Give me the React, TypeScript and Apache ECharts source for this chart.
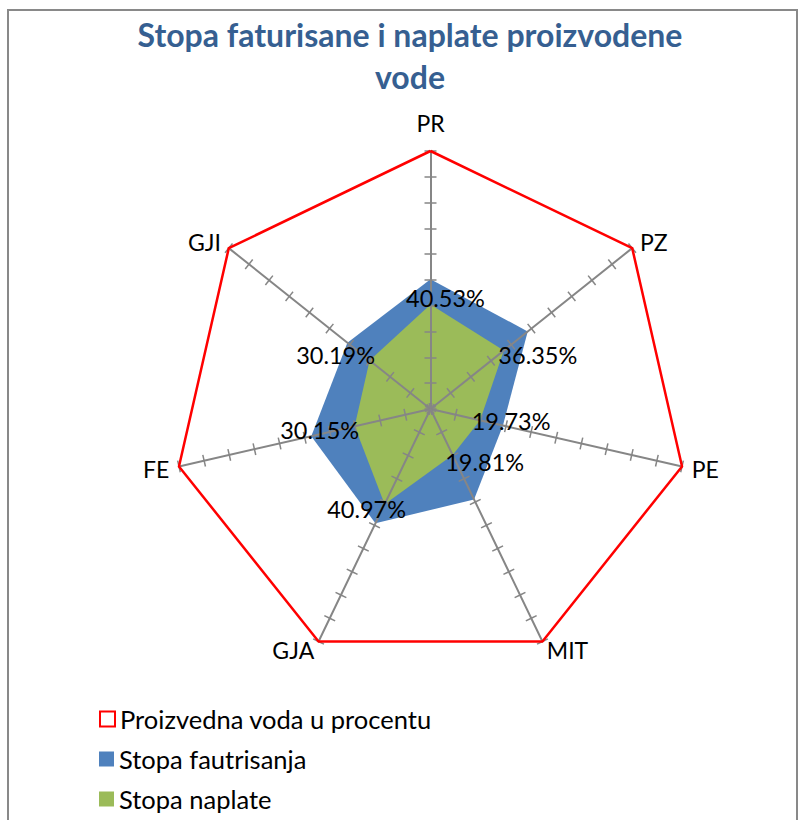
import React, { useEffect, useRef } from "react";
import * as echarts from "echarts";

const categories = ["PR", "PZ", "PE", "MIT", "GJA", "FE", "GJI"];
const proizvedna = [100, 100, 100, 100, 100, 100, 100];
const fakturisanje = [50.3, 48.2, 28.8, 38.9, 49.2, 47.4, 41.2];
const naplata = [40.53, 36.35, 19.73, 19.81, 40.97, 30.15, 30.19];
const seriesNames = ["Proizvedna voda u procentu", "Stopa fautrisanja", "Stopa naplate"];
const titleText = "Stopa faturisane i naplate proizvodene\nvode";

// label offsets (style only) per category, in the same order as categories
const labelOffsets = [
  [15, -6],
  [34, 4],
  [31, 1],
  [32, 7],
  [-18, 5],
  [-35, 4],
  [-34, -5],
];

const FONT = "Lato, 'Open Sans', sans-serif";
const AXIS_GRAY = "#868686";

// ECharts places indicators counter-clockwise; Excel clockwise
const order = [0, ...categories.map((_, i) => i).slice(1).reverse()];
const reorder = <T,>(arr: T[]): T[] => order.map((i) => arr[i]);

export default function App() {
  const ref = useRef<HTMLDivElement>(null);
  useEffect(() => {
    if (!ref.current) return;
    const chart = echarts.init(ref.current, undefined, { renderer: "svg" });
    const indicator = reorder(categories).map((name) => ({ name, min: 0, max: 100 }));
    const baseRadar = {
      center: [430.5, 409],
      radius: 258,
      startAngle: 90,
      shape: "polygon",
      splitNumber: 10,
      indicator,
      splitLine: { show: false },
      splitArea: { show: false },
      axisLabel: { show: false },
      z: 3,
    };
    const legendIcons: any[] = [
      { icon: "rect", itemStyle: { color: "#ffffff", borderColor: "#FF0000", borderWidth: 2 } },
      { icon: "rect", itemStyle: { color: "#4F81BD" } },
      { icon: "rect", itemStyle: { color: "#9BBB59" } },
    ];
    const legendTops = [706, 746, 786];
    const option: any = {
      animation: false,
      backgroundColor: "#ffffff",
      title: {
        text: titleText,
        left: 405,
        top: 8,
        textAlign: "center",
        textStyle: {
          fontFamily: FONT,
          fontWeight: "bold",
          fontSize: 32,
          lineHeight: 42,
          color: "#365F91",
        },
      },
      legend: seriesNames.map((name, i) => ({
        orient: "horizontal",
        left: 99,
        top: legendTops[i],
        padding: 0,
        itemWidth: 15,
        itemHeight: 15,
        selectedMode: false,
        textStyle: { fontFamily: FONT, fontSize: 25.5, lineHeight: 20, color: "#000" },
        data: [{ name, ...legendIcons[i] }],
      })),
      graphic: [
        {
          type: "rect",
          shape: { x: 8, y: 10, width: 789, height: 840 },
          style: { fill: "none", stroke: "#898989", lineWidth: 2 },
          silent: true,
        },
      ],
      radar: [
        {
          ...baseRadar,
          axisName: {
            color: "#000",
            fontSize: 23,
            fontFamily: FONT,
            formatter: (name: string) => (name === categories[0] ? `{top|${name}}` : name),
            rich: { top: { color: "#000", fontSize: 23, fontFamily: FONT, padding: [0, 0, 7, 0] } },
          },
          axisNameGap: 10,
          axisLine: { lineStyle: { color: AXIS_GRAY, width: 2 } },
          axisTick: { show: true, length: 6, lineStyle: { color: AXIS_GRAY, width: 1.5 } },
        },
        {
          ...baseRadar,
          axisName: { show: false },
          axisLine: { show: false },
          axisTick: { show: true, length: -6, lineStyle: { color: AXIS_GRAY, width: 1.5 } },
        },
      ],
      series: [
        {
          name: seriesNames[1],
          type: "radar",
          radarIndex: 0,
          z: 1,
          silent: true,
          symbol: "none",
          lineStyle: { width: 0, color: "#4F81BD" },
          itemStyle: { color: "#4F81BD" },
          areaStyle: { color: "#4F81BD", opacity: 1 },
          data: [{ name: seriesNames[1], value: reorder(fakturisanje) }],
        },
        {
          name: seriesNames[2],
          type: "radar",
          radarIndex: 0,
          z: 1,
          silent: true,
          symbol: "none",
          lineStyle: { width: 0, color: "#9BBB59" },
          itemStyle: { color: "#9BBB59" },
          areaStyle: { color: "#9BBB59", opacity: 1 },
          data: [{ name: seriesNames[2], value: reorder(naplata) }],
        },
        {
          name: seriesNames[0],
          type: "radar",
          radarIndex: 0,
          z: 4,
          silent: true,
          symbol: "none",
          lineStyle: { width: 2.5, color: "#FF0000" },
          itemStyle: { color: "#FF0000" },
          data: [{ name: seriesNames[0], value: reorder(proizvedna) }],
        },
        {
          name: "labels",
          type: "radar",
          radarIndex: 0,
          z: 5,
          silent: true,
          symbol: "circle",
          symbolSize: 1,
          itemStyle: { color: "rgba(0,0,0,0)" },
          lineStyle: { width: 0, opacity: 0 },
          data: categories.map((c, i) => ({
            name: c,
            value: reorder(naplata),
            label: {
              show: true,
              position: "inside",
              offset: labelOffsets[i],
              color: "#000",
              fontFamily: FONT,
              fontSize: 23.5,
              formatter: (p: any) =>
                p.value === naplata[i] ? `${naplata[i].toFixed(2)}%` : "",
            },
          })),
        },
      ],
    };
    chart.setOption(option);
    return () => chart.dispose();
  }, []);
  return (
    <div
      ref={ref}
      style={{ position: "absolute", left: 0, top: 0, width: 801, height: 820, background: "#fff" }}
    />
  );
}
